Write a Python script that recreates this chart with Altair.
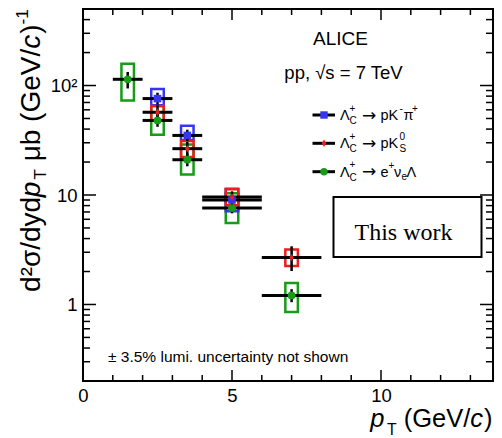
import altair as alt
import pandas as pd

# ---------------- data ----------------
SERIES = ["eNuL", "pKpi", "pK0S"]          # drawing order: green, blue, red
COLORS = ["#169c16", "#3636f2", "#ee1c1c"]

green_pt = [1.5, 2.5, 3.5, 5.0, 7.0]
green_lo = [1, 2, 3, 4, 6]
green_hi = [2, 3, 4, 6, 8]
green_y = [114, 48, 21, 7.6, 1.21]
green_stat_lo = [94, 42, 18.3, 6.8, 1.05]
green_stat_hi = [133, 55, 24, 8.5, 1.38]
green_sys_lo = [73, 35.6, 15.4, 5.55, 0.855]
green_sys_hi = [158, 65, 29, 10.4, 1.57]

blue_pt = [2.5, 3.5, 5.0]
blue_lo = [2, 3, 4]
blue_hi = [3, 4, 6]
blue_y = [76, 35, 9.0]
blue_stat_lo = [67, 31, 8.1]
blue_stat_hi = [86, 39.5, 10.0]
blue_sys_lo = [66, 31.7, 7.1]
blue_sys_hi = [93, 43, 11.4]

red_pt = [2.5, 3.5, 5.0, 7.0]
red_lo = [2, 3, 4, 6]
red_hi = [3, 4, 6, 8]
red_y = [57, 26.5, 9.6, 2.68]
red_stat_lo = [49, 23, 8.5, 2.02]
red_stat_hi = [66, 30.5, 10.8, 3.40]
red_sys_lo = [48, 22.2, 8.05, 2.25]
red_sys_hi = [65, 31.1, 11.3, 3.17]

x_labels = [0, 5, 10]
y_labels = [1, 10, 100]
x_major_ticks = [5, 10]
x_minor_ticks = [1, 2, 3, 4, 6, 7, 8, 9, 11, 12, 13]
y_major_ticks = [1, 10, 100]
y_minor_ticks = [0.3, 0.4, 0.5, 0.6, 0.7, 0.8, 0.9, 2, 3, 4, 5, 6, 7, 8, 9,
                 20, 30, 40, 50, 60, 70, 80, 90, 200, 300, 400]

# ---------------- layout constants ----------------
FONT = "Liberation Sans"
PXU = 29.8              # pixels per GeV/c
W, H = 410, 372
XMAX = W / PXU
PL, PT = 83, 9          # page coords of plot-area origin
BOXW = 0.21

def build(name, pt, lo, hi, y, slo, shi, ylo, yhi):
    return pd.DataFrame({"series": name, "pt": pt, "xlo": lo, "xhi": hi, "y": y,
                         "stat_lo": slo, "stat_hi": shi, "sys_lo": ylo, "sys_hi": yhi})

df = pd.concat([
    build("eNuL", green_pt, green_lo, green_hi, green_y, green_stat_lo, green_stat_hi, green_sys_lo, green_sys_hi),
    build("pKpi", blue_pt, blue_lo, blue_hi, blue_y, blue_stat_lo, blue_stat_hi, blue_sys_lo, blue_sys_hi),
    build("pK0S", red_pt, red_lo, red_hi, red_y, red_stat_lo, red_stat_hi, red_sys_lo, red_sys_hi),
], ignore_index=True)
df["bx1"] = df["pt"] - BOXW
df["bx2"] = df["pt"] + BOXW
df["order"] = range(len(df))

XS = alt.Scale(domain=[0, XMAX], nice=False, zero=False)
YS = alt.Scale(type="log", domain=[0.2, 500], nice=False)
XAX = alt.Axis(values=x_labels, ticks=False, domain=False, grid=False, labelFontSize=18.5,
               labelFont=FONT, labelColor="black", labelPadding=5, labelFlush=False,
               labelOverlap=False, format="d")
YAX = alt.Axis(values=y_labels, ticks=False, domain=False, grid=False, labelFontSize=18.5,
               labelFont=FONT, labelColor="black", labelPadding=6, labelFlush=False,
               labelOverlap=False,
               labelExpr="datum.value >= 50 ? '10²' : datum.value >= 5 ? '10' : '1'")

def X(f):
    return alt.X(f"{f}:Q", scale=XS, axis=XAX, title=None)

def Y(f):
    return alt.Y(f"{f}:Q", scale=YS, axis=YAX, title=None)

color_scale = alt.Scale(domain=SERIES, range=COLORS)
base = alt.Chart(df)

boxes = base.mark_rect(fillOpacity=0, strokeWidth=2.5).encode(
    x=X("bx1"), x2="bx2", y=Y("sys_lo"), y2="sys_hi",
    stroke=alt.Stroke("series:N", scale=color_scale, legend=None),
    order="order:Q")
hbars = base.mark_rule(color="black", strokeWidth=3).encode(x=X("xlo"), x2="xhi", y=Y("y"))
vbars = base.mark_rule(color="black", strokeWidth=2.5).encode(x=X("pt"), y=Y("stat_lo"), y2="stat_hi")
DIAMOND = "M0,-1L0.6,0L0,1L-0.6,0Z"
points = base.mark_point(filled=True, opacity=1).encode(
    x=X("pt"), y=Y("y"),
    color=alt.Color("series:N", scale=color_scale, legend=None),
    shape=alt.Shape("series:N", scale=alt.Scale(domain=SERIES, range=["circle", "square", DIAMOND]), legend=None),
    size=alt.Size("series:N", scale=alt.Scale(domain=SERIES, range=[60, 55, 60]), legend=None))

# inward ticks (ROOT style)
def xticks(vals, L):
    d = alt.Chart(pd.DataFrame({"t": vals}))
    return [d.mark_rule(color="black", strokeWidth=1.5).encode(x=X("t"), y=alt.value(H), y2=alt.value(H - L)),
            d.mark_rule(color="black", strokeWidth=1.5).encode(x=X("t"), y=alt.value(0), y2=alt.value(L))]

def yticks(vals, L):
    d = alt.Chart(pd.DataFrame({"t": vals}))
    return [d.mark_rule(color="black", strokeWidth=1.5).encode(y=Y("t"), x=alt.value(0), x2=alt.value(L)),
            d.mark_rule(color="black", strokeWidth=1.5).encode(y=Y("t"), x=alt.value(W), x2=alt.value(W - L))]

ticks = xticks(x_major_ticks, 11) + xticks(x_minor_ticks, 6) + yticks(y_major_ticks, 13) + yticks(y_minor_ticks, 7)

# ---------------- annotations ----------------
ONE = alt.Data(values=[{"k": 0}])

def txt(px, py, s, size, italic=False, align="left", angle=0, font=FONT, baseline="alphabetic"):
    kw = dict(text=s, fontSize=size, font=font, align=align, baseline=baseline, color="black")
    if italic:
        kw["fontStyle"] = "italic"
    if angle:
        kw["angle"] = angle
    return alt.Chart(ONE).mark_text(**kw).encode(x=alt.value(px - PL), y=alt.value(py - PT))

AW = {'d': 556, '²': 333, 'σ': 600, '/': 278, 'y': 500, 'p': 556, 'T': 611, ' ': 278, 'μ': 576,
      'b': 556, '(': 333, 'G': 778, 'e': 556, 'V': 667, 'c': 500, ')': 333, '-': 333, '1': 556}

def tw(s, size):
    return sum(AW.get(c, 556) for c in s) / 1000.0 * size

ann = []
# y title (rotated); pieces: text, size, baseline shift, italic, gap after
FY = 28
SUBY = 0.62 * FY
SP = 0.278 * FY
ypieces = [("d²σ/dyd", FY, 0, False, 0), ("p", FY, 0, True, 2), ("T", SUBY, -0.22 * FY, False, SP),
           ("μb", FY, 0, False, SP), ("(GeV/", FY, 0, False, 0), ("c", FY, 0, True, 1), (")", FY, 0, False, 0),
           ("-1", SUBY, 0.42 * FY, False, 0)]
total = sum(tw(t, s) + g for t, s, _, _, g in ypieces)
XB = 39.5
cur = 9 + total
for t, s, sh, it, g in ypieces:
    ann.append(txt(XB - sh, cur, t, s, italic=it, angle=270))
    cur -= tw(t, s) + g

# x title
FX = 25.5
SUBX = 0.62 * FX
xpieces = [("p", FX, 0, True, 2.5), ("T", SUBX, -0.3 * FX, False, 0.278 * FX), ("(GeV/", FX, 0, False, 0),
           ("c", FX, 0, True, 1), (")", FX, 0, False, 0)]
total = sum(tw(t, s) + g for t, s, _, _, g in xpieces)
cur = 492.5 - total
for t, s, sh, it, g in xpieces:
    ann.append(txt(cur, 427 - sh, t, s, italic=it))
    cur += tw(t, s) + g

ann.append(txt(340.5, 45, "ALICE", 19, align="center"))
ann.append(txt(343.5, 78.5, "pp, √s = 7 TeV", 18.5, align="center"))
ann.append(txt(108, 362, "± 3.5% lumi. uncertainty not shown", 15.5))

# "This work" box
ann.append(alt.Chart(ONE).mark_rect(fillOpacity=0, stroke="black", strokeWidth=2).encode(
    x=alt.value(333.5 - PL), x2=alt.value(481.5 - PL), y=alt.value(197 - PT), y2=alt.value(257 - PT)))
ann.append(txt(403.5, 240, "This work", 24, align="center", font="Liberation Serif"))

# legend
FL, FS = 14.5, 10
rows = [115, 143.3, 171.7]
for r, col, shp in zip(rows, ["#3636f2", "#ee1c1c", "#169c16"], ["square", DIAMOND, "circle"]):
    ann.append(alt.Chart(ONE).mark_rule(color="black", strokeWidth=3).encode(
        x=alt.value(312.5 - PL), x2=alt.value(335 - PL), y=alt.value(r - PT)))
    ann.append(alt.Chart(ONE).mark_point(filled=True, opacity=1, color=col, shape=shp, size=55).encode(
        x=alt.value(324 - PL), y=alt.value(r - PT)))
    ann.append(txt(340, r + 5, "Λ", FL))
    ann.append(txt(349.5, r - 3.5, "+", FS))
    ann.append(txt(349.5, r + 9, "C", FS))
    ann.append(txt(362, r + 5.5, "→", 17, font="DejaVu Sans"))
r1, r2, r3 = rows
ann += [txt(380.5, r1 + 5, "pK", FL), txt(399.5, r1 - 3, "-", FS), txt(403.5, r1 + 5, "π", FL),
        txt(412, r1 - 3, "+", FS)]
ann += [txt(380.5, r2 + 5, "pK", FL), txt(399.5, r2 - 3, "0", FS), txt(399.5, r2 + 9, "S", FS)]
ann += [txt(380.5, r3 + 5, "e", FL), txt(388.5, r3 - 3, "+", FS), txt(394, r3 + 5, "ν", FL),
        txt(401.5, r3 + 8, "e", FS), txt(406.5, r3 + 5, "Λ", FL)]

chart = alt.layer(boxes, hbars, vbars, points, *ticks, *ann).properties(
    width=W, height=H,
    autosize=alt.AutoSizeParams(type="none"),
    padding={"left": 75, "top": 1, "right": 1, "bottom": 57},
).configure_view(stroke="black", strokeWidth=2)

chart.save("out.html", embed_options={"renderer": "svg", "actions": False})
